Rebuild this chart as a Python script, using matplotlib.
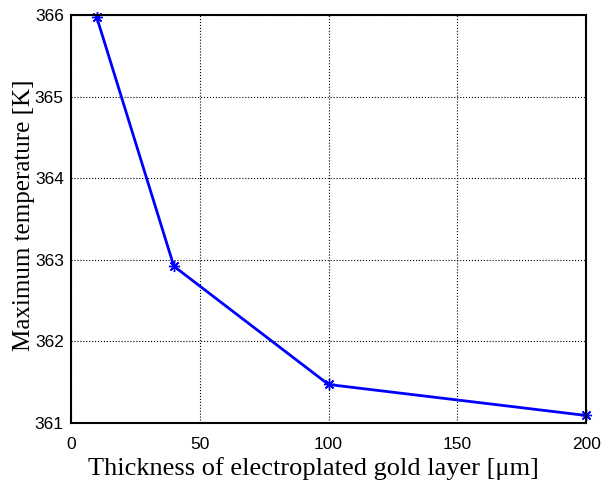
import matplotlib
matplotlib.use('Agg')
import matplotlib.pyplot as plt

thickness = [10, 40, 100, 200]
max_temp = [365.98, 362.92, 361.47, 361.09]

xticks = [0, 50, 100, 150, 200]
yticks = [361, 362, 363, 364, 365, 366]

fig = plt.figure(figsize=(6.05, 4.86), dpi=100)
ax = fig.add_axes([0.117, 0.130, 0.852, 0.839])

# matlab style asterisk marker
ax.plot(thickness, max_temp, color='blue', linewidth=2, marker=(8, 2, 0),
        markersize=8, markeredgewidth=1, clip_on=False)

ax.set_xlim(0, 200)
ax.set_ylim(361, 366)
ax.set_xticks(xticks)
ax.set_yticks(yticks)
ax.grid(True, linestyle=':', color='black', linewidth=0.8)
ax.tick_params(direction='in', length=0, labelsize=12.5)
ax.tick_params(axis='x', pad=10)
ax.tick_params(axis='y', pad=5)
for lab in ax.get_xticklabels() + ax.get_yticklabels():
    lab.set_fontfamily('Liberation Sans')
for s in ax.spines.values():
    s.set_linewidth(1.5)

ax.set_xlabel('Thickness of electroplated gold layer [\u03bcm]',
              fontfamily='Liberation Serif', fontsize=19)
ax.set_ylabel('Maximum temperature [K]',
              fontfamily='Liberation Serif', fontsize=18)
ax.xaxis.set_label_coords(0.47, -0.085)
ax.yaxis.set_label_coords(-0.07, 0.51)

fig.savefig('out.png', dpi=100)
